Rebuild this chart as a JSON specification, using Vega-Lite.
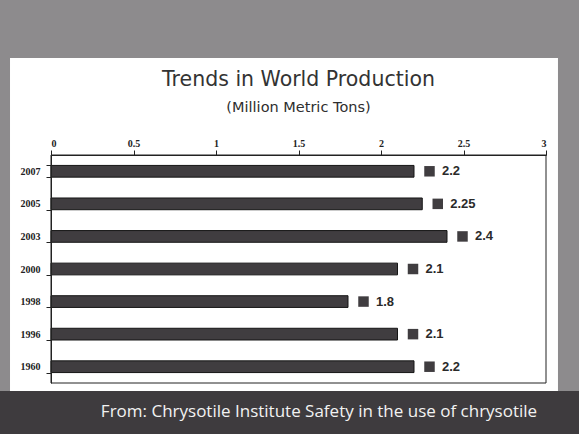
{
  "$schema": "https://vega.github.io/schema/vega-lite/v6.json",
  "width": 495,
  "height": 228,
  "autosize": {"type": "none"},
  "padding": {"left": 51, "top": 155, "right": 33, "bottom": 51},
  "background": "#8d8b8d",
  "config": {"view": {"stroke": null, "fill": null}},
  "title": {
    "text": "Trends in World Production",
    "subtitle": "(Million Metric Tons)",
    "anchor": "middle",
    "frame": "group",
    "font": "DejaVu Sans",
    "fontSize": 20.5,
    "fontWeight": "normal",
    "color": "#333333",
    "subtitleFont": "DejaVu Sans",
    "subtitleFontSize": 14.5,
    "subtitleColor": "#2e2e2e",
    "subtitlePadding": 10,
    "offset": -56,
    "zindex": 1
  },
  "resolve": {"scale": {"x": "independent", "y": "independent"}},
  "layer": [
    {
      "data": {"values": [{}]},
      "layer": [
        {
          "mark": {"type": "rect", "color": "#ffffff"},
          "encoding": {
            "x": {"datum": -0.0828, "type": "quantitative", "scale": {"domain": [0, 1], "nice": false, "zero": false}, "axis": null},
            "x2": {"datum": 1.0242},
            "y": {"datum": -0.0351, "type": "quantitative", "scale": {"domain": [0, 1], "nice": false, "zero": false}, "axis": null},
            "y2": {"datum": 1.4254}
          }
        },
        {
          "mark": {"type": "rect", "color": "#3e3b3e"},
          "encoding": {
            "x": {"datum": -0.2, "type": "quantitative"},
            "x2": {"datum": 1.2},
            "y": {"datum": -0.5, "type": "quantitative"},
            "y2": {"datum": -0.0351}
          }
        },
        {
          "mark": {"type": "rect", "fill": null, "fillOpacity": 0, "stroke": "#222222", "strokeWidth": 1},
          "encoding": {
            "x": {"datum": 0, "type": "quantitative"},
            "x2": {"datum": 1},
            "y": {"datum": 0, "type": "quantitative"},
            "y2": {"datum": 1}
          }
        },
        {
          "mark": {"type": "text", "text": "From: Chrysotile Institute Safety in the use of chrysotile", "font": "Open Sans", "fontSize": 17, "color": "#f2f2f2", "align": "center", "baseline": "alphabetic"},
          "encoding": {
            "x": {"datum": 0.5414, "type": "quantitative"},
            "y": {"datum": -0.1491, "type": "quantitative"}
          }
        }
      ]
    },
    {
      "data": {
        "values": [
          {"year": "2007", "production": 2.2},
          {"year": "2005", "production": 2.25},
          {"year": "2003", "production": 2.4},
          {"year": "2000", "production": 2.1},
          {"year": "1998", "production": 1.8},
          {"year": "1996", "production": 2.1},
          {"year": "1960", "production": 2.2}
        ]
      },
      "encoding": {
        "y": {
          "field": "year",
          "type": "nominal",
          "sort": null,
          "scale": {"paddingInner": 0.64, "paddingOuter": 0.32},
          "axis": {
            "orient": "left",
            "title": null,
            "labelFont": "Liberation Serif",
            "labelFontWeight": "bold",
            "labelFontSize": 10,
            "labelColor": "#222222",
            "tickBand": "extent",
            "tickSize": 5,
            "tickColor": "#222222",
            "domainColor": "#222222",
            "labelPadding": 6,
            "zindex": 1
          }
        },
        "x": {
          "field": "production",
          "type": "quantitative",
          "scale": {"domain": [0, 3], "nice": false},
          "axis": {
            "orient": "top",
            "title": null,
            "values": [0, 0.5, 1, 1.5, 2, 2.5, 3],
            "format": "~g",
            "grid": false,
            "labelFont": "Liberation Serif",
            "labelFontWeight": "bold",
            "labelFontSize": 10,
            "labelColor": "#222222",
            "tickSize": 5,
            "tickColor": "#222222",
            "domainColor": "#222222",
            "labelPadding": 2,
            "zindex": 1
          }
        }
      },
      "layer": [
        {"mark": {"type": "bar", "color": "#403d40", "stroke": "#151515", "strokeWidth": 1}},
        {"mark": {"type": "point", "shape": "square", "size": 110, "filled": true, "color": "#403d40", "opacity": 1, "xOffset": 15.5}},
        {
          "mark": {"type": "text", "align": "left", "baseline": "middle", "dx": 28, "font": "Liberation Sans", "fontWeight": "bold", "fontSize": 13, "color": "#2a2a2a"},
          "encoding": {"text": {"field": "production", "type": "quantitative", "format": "~g"}}
        }
      ]
    }
  ]
}
